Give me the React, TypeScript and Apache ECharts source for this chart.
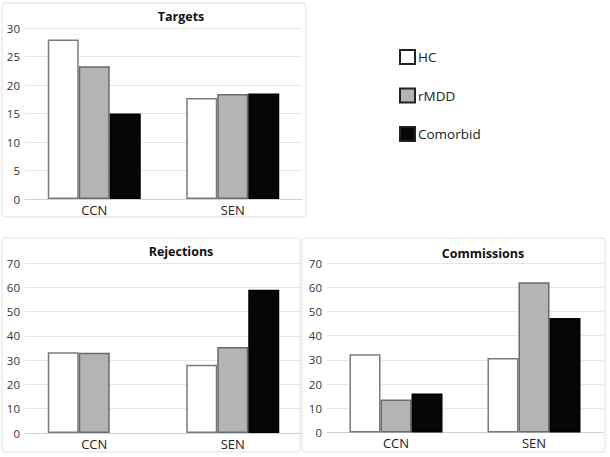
import React, { useEffect, useRef } from "react";
import * as echarts from "echarts";

const categories = ["CCN", "SEN"];
const seriesNames = ["HC", "rMDD", "Comorbid"];

const targetsHC = [28.0, 17.7];
const targetsRMDD = [23.3, 18.4];
const targetsComorbid = [15.0, 18.5];

const rejectionsHC = [33.2, 28.1];
const rejectionsRMDD = [33.0, 35.4];
const rejectionsComorbid: (number | null)[] = [null, 59.0];

const commissionsHC = [32.3, 30.8];
const commissionsRMDD = [13.6, 62.0];
const commissionsComorbid = [16.1, 47.3];

const panelTitles = ["Targets", "Rejections", "Commissions"];

const FONT = "'Open Sans', 'Noto Sans', sans-serif";

const styles = [
  { color: "#ffffff", borderColor: "#7a7a7a", borderWidth: 1.5 },
  { color: "#b4b4b4", borderColor: "#6a6a6a", borderWidth: 1.5 },
  { color: "#060606", borderColor: "#000000", borderWidth: 1.5 },
];

export default function App() {
  const ref = useRef<HTMLDivElement>(null);
  useEffect(() => {
    if (!ref.current) return;
    const chart = echarts.init(ref.current, null, { renderer: "svg" });

    const grids = [
      { left: 25, top: 28, width: 277, height: 171 },
      { left: 25, top: 263, width: 277, height: 170 },
      { left: 327, top: 263, width: 276, height: 169.5 },
    ];

    const xAxes = grids.map((_, i) => ({
      type: "category",
      gridIndex: i,
      data: categories,
      axisLine: { lineStyle: { color: "#d0d0d0" } },
      axisTick: { show: false },
      axisLabel: { color: "#222", fontSize: 13, fontFamily: FONT, margin: 4 },
    }));

    const yMax = [30, 70, 70];
    const yInt = [5, 10, 10];
    const yAxes = grids.map((_, i) => ({
      type: "value",
      gridIndex: i,
      min: 0,
      max: yMax[i],
      interval: yInt[i],
      axisLine: { show: false },
      axisTick: { show: false },
      splitLine: { lineStyle: { color: "#e6e6e6" } },
      axisLabel: { color: "#333", fontSize: 11.5, fontFamily: FONT, margin: 5 },
    }));

    const panelData = [
      [targetsHC, targetsRMDD, targetsComorbid],
      [rejectionsHC, rejectionsRMDD, rejectionsComorbid],
      [commissionsHC, commissionsRMDD, commissionsComorbid],
    ];

    const series: any[] = [];
    panelData.forEach((group, gi) => {
      group.forEach((vals, si) => {
        series.push({
          type: "bar",
          name: seriesNames[si],
          xAxisIndex: gi,
          yAxisIndex: gi,
          data: vals,
          barWidth: 31,
          barGap: "0%",
          itemStyle: styles[si],
          emphasis: { disabled: true },
        });
      });
    });

    const titlePos = [
      [181, 16],
      [181, 251],
      [483, 253],
    ];

    const graphic: any[] = [
      { type: "rect", shape: { x: 2, y: 3, width: 304, height: 214, r: 3 }, style: { fill: "none", stroke: "#e0e0e0", lineWidth: 1 } },
      { type: "rect", shape: { x: 2, y: 238, width: 298, height: 214, r: 3 }, style: { fill: "none", stroke: "#e0e0e0", lineWidth: 1 } },
      { type: "rect", shape: { x: 302, y: 238, width: 303, height: 214, r: 3 }, style: { fill: "none", stroke: "#e0e0e0", lineWidth: 1 } },
      ...panelTitles.map((t, i) => ({
        type: "text",
        x: titlePos[i][0],
        y: titlePos[i][1],
        style: {
          text: t,
          fill: "#111",
          font: `bold 12.5px ${FONT}`,
          textAlign: "center",
          textVerticalAlign: "middle",
          align: "center",
          verticalAlign: "middle",
        },
      })),
    ];

    chart.setOption({
      animation: false,
      backgroundColor: "#ffffff",
      grid: grids,
      xAxis: xAxes,
      yAxis: yAxes,
      series,
      graphic,
      legend: {
        orient: "vertical",
        left: 394,
        top: 44,
        itemWidth: 15,
        itemHeight: 14,
        itemGap: 22.5,
        icon: "rect",
        selectedMode: false,
        textStyle: { color: "#222", fontSize: 13.5, fontFamily: FONT, padding: [0, 0, 0, -2] },
        data: seriesNames.map((n, i) => ({
          name: n,
          itemStyle: { color: styles[i].color, borderColor: "#222", borderWidth: 2 },
        })),
      },
    });
    return () => chart.dispose();
  }, []);
  return (
    <div
      ref={ref}
      style={{ position: "fixed", left: 0, top: 0, width: 610, height: 457 }}
    />
  );
}
